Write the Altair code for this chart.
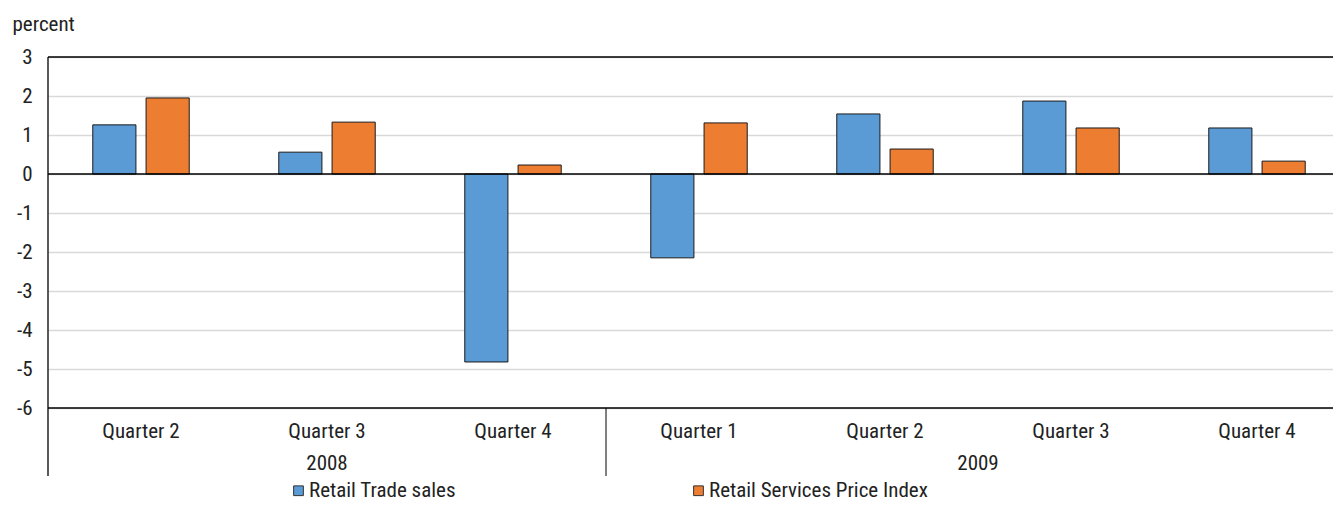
import altair as alt
import pandas as pd

# ---- data ----
quarters = ["Quarter 2", "Quarter 3", "Quarter 4", "Quarter 1", "Quarter 2", "Quarter 3", "Quarter 4"]
years = ["2008", "2008", "2008", "2009", "2009", "2009", "2009"]
retail_trade_sales = [1.26, 0.56, -4.82, -2.15, 1.54, 1.87, 1.18]
retail_services_price_index = [1.95, 1.33, 0.23, 1.31, 0.64, 1.18, 0.33]
series_names = ["Retail Trade sales", "Retail Services Price Index"]
series_colors = ["#5B9BD5", "#ED7D31"]
y_ticks = [-6, -5, -4, -3, -2, -1, 0, 1, 2, 3]

FONT = "Liberation Sans Narrow, Roboto Condensed, DejaVu Sans Condensed, sans-serif"
FS = 21

keys = [f"{y} {q}" for y, q in zip(years, quarters)]

rows = []
for k, a, b in zip(keys, retail_trade_sales, retail_services_price_index):
    rows.append({"key": k, "series": series_names[0], "value": a})
    rows.append({"key": k, "series": series_names[1], "value": b})
bars_df = pd.DataFrame(rows)
cat_df = pd.DataFrame({"key": keys, "quarter": quarters, "year": years})

# the category axis runs past the visible right edge, as in the reference
x_scale = alt.Scale(domain=keys, paddingInner=0, paddingOuter=0, range=[0, 1302])
X = lambda **kw: alt.X("key:N", scale=x_scale, axis=None, **kw)
y_scale = alt.Scale(domain=[-6, 3], nice=False)
y_axis = alt.Axis(values=y_ticks, title="percent", titleAngle=0, titleAlign="left",
                  titleX=-36, titleY=-33, titleBaseline="middle",
                  titleFontWeight="normal", titleFontSize=FS, titleFont=FONT,
                  titleColor="#222", labelFont=FONT, labelFontSize=FS,
                  labelColor="#222", labelPadding=16, labelOverlap=False,
                  labelExpr="datum.value + ''",
                  labelFlush=False, labelBound=False, ticks=False, domain=False,
                  grid=True, gridColor="#d9d9d9", gridWidth=1.3)

bars = alt.Chart(bars_df).mark_bar(stroke="#1a1a1a", strokeWidth=1).encode(
    x=X(),
    xOffset=alt.XOffset("series:N", sort=series_names,
                        scale=alt.Scale(domain=series_names, paddingInner=0.19, paddingOuter=0.84)),
    y=alt.Y("value:Q", scale=y_scale, axis=y_axis),
    color=alt.Color("series:N", sort=series_names,
                    scale=alt.Scale(domain=series_names, range=series_colors),
                    legend=alt.Legend(orient="none", legendX=240, legendY=423,
                                      direction="horizontal", title=None,
                                      symbolType="square", symbolSize=95,
                                      symbolStrokeColor="#333", symbolStrokeWidth=1,
                                      labelFont=FONT, labelFontSize=FS, labelColor="#222",
                                      labelOffset=0, labelLimit=500, columnPadding=232)),
)

hlines = alt.Chart(pd.DataFrame({"v": [3, 0, -6]})).mark_rule(
    color="black", strokeWidth=1.3).encode(y=alt.Y("v:Q", scale=y_scale, axis=y_axis))

left_frame = alt.Chart(pd.DataFrame({"key": [keys[0]]})).mark_rule(
    color="black", strokeWidth=1.3).encode(
    x=X(bandPosition=0), y=alt.value(0), y2=alt.value(419))
sep_mid = alt.Chart(pd.DataFrame({"key": [keys[3]]})).mark_rule(
    color="black", strokeWidth=1).encode(
    x=X(bandPosition=0), y=alt.value(351), y2=alt.value(419))

q_labels = alt.Chart(cat_df).mark_text(font=FONT, fontSize=FS, color="#222",
                                       baseline="middle").encode(
    x=X(), y=alt.value(375), text="quarter:N")

yr08 = alt.Chart(pd.DataFrame({"key": [keys[1]], "year": ["2008"]})).mark_text(
    font=FONT, fontSize=FS, color="#222", baseline="middle").encode(
    x=X(bandPosition=0.5), y=alt.value(407), text="year:N")
yr09 = alt.Chart(pd.DataFrame({"key": [keys[5]], "year": ["2009"]})).mark_text(
    font=FONT, fontSize=FS, color="#222", baseline="middle").encode(
    x=X(bandPosition=0), y=alt.value(407), text="year:N")

chart = alt.layer(bars, hlines, left_frame, sep_mid, q_labels, yr08, yr09).properties(
    width=1285, height=351,
    autosize=alt.AutoSizeParams(type="none"),
    padding={"left": 40, "top": 49, "right": 0, "bottom": 94},
).configure_view(stroke=None)

chart.save("out.html", embed_options={"renderer": "svg", "actions": False})
